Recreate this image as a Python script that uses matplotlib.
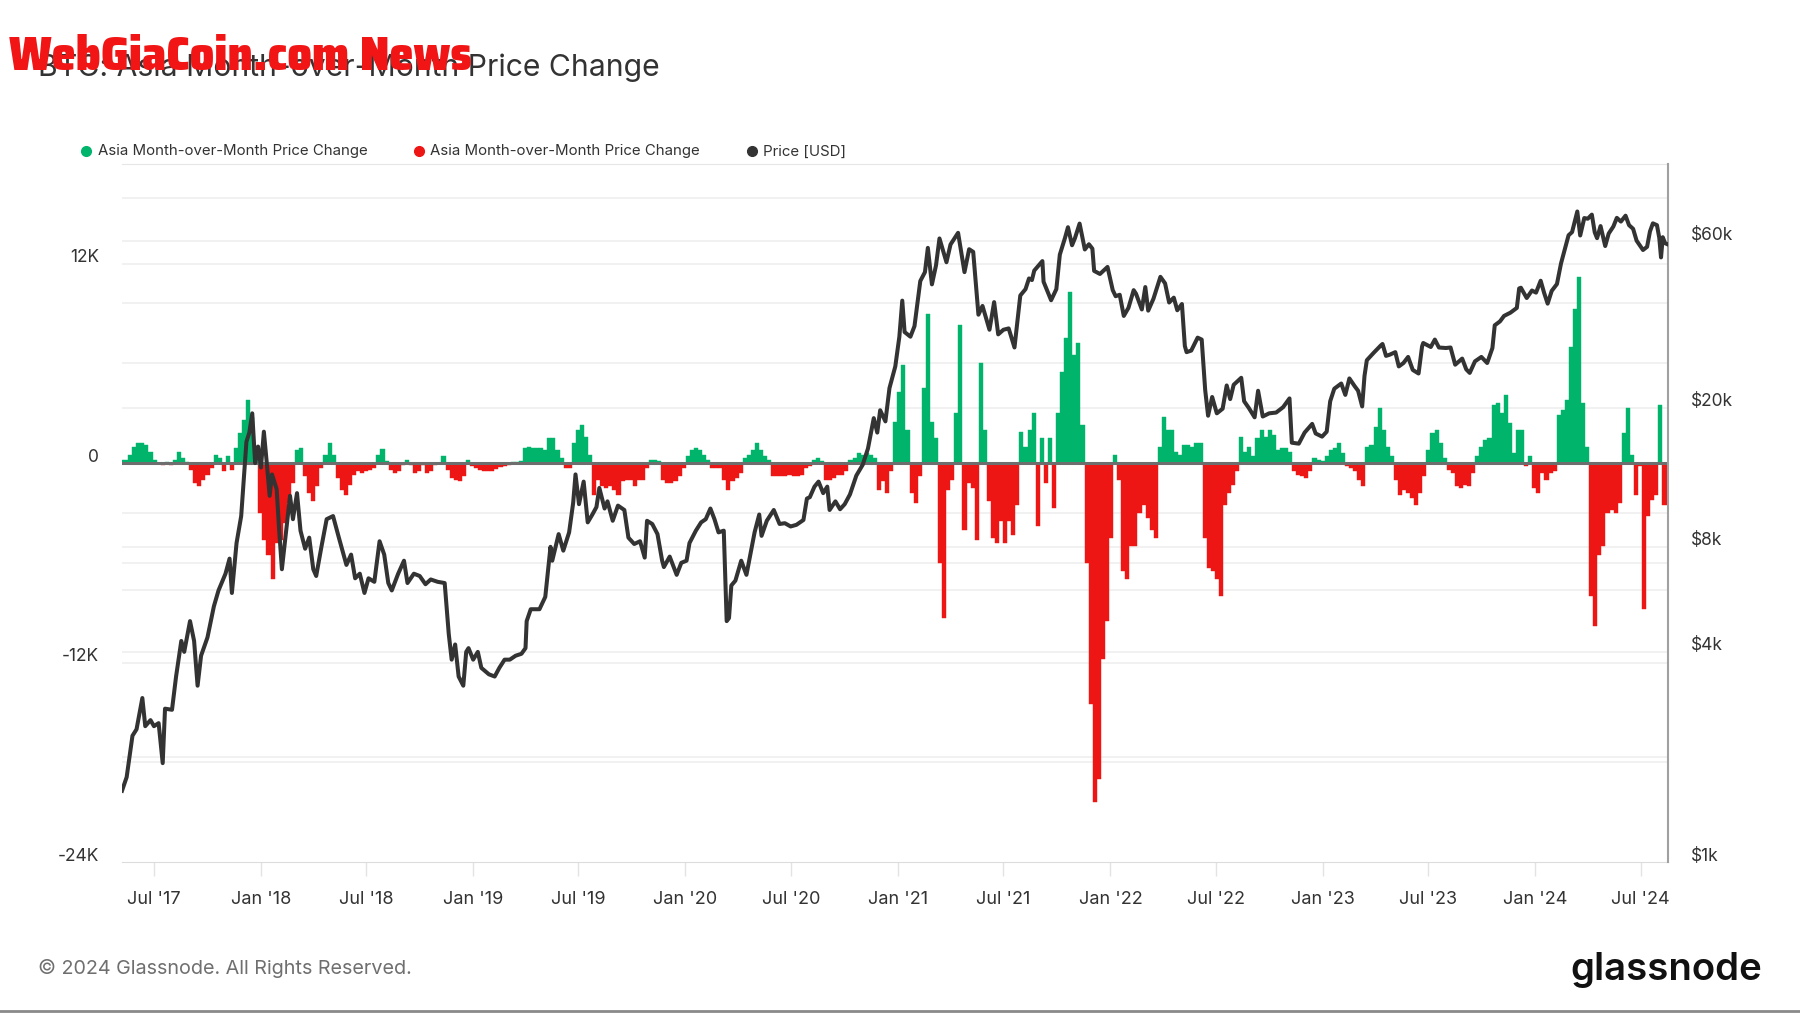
import matplotlib
matplotlib.use("Agg")
import matplotlib.pyplot as plt
import numpy as np
import pandas as pd
from matplotlib.lines import Line2D
from matplotlib.ticker import NullLocator
from matplotlib import font_manager
from matplotlib.font_manager import FontProperties

# ---------------- data ----------------
# Asia month-over-month price change (USD thousands), one value per week starting 2017-05-07
mom_start = "2017-05-07"
mom_2017 = [0.2, 0.2, 0.5, 1.0, 1.2, 1.2, 1.1, 0.7, 0.2, -0.05, -0.1, 0.05, -0.1, 0.2, 0.65, 0.3, 0.05,
            -0.4, -1.2, -1.4, -1.0, -0.7, -0.3, 0.5, 0.3, -0.5, 0.4, -0.4, 0.9, 1.8, 2.6, 3.8, 2.8, 0.8, -3.0]
mom_2018 = [-4.6, -5.5, -7.0, -4.8, -4.6, -3.6, -2.4, -1.2, 0.8, 0.9, -0.8, -1.8, -2.3, -1.4, -0.3, 0.5,
            1.2, 0.5, -0.9, -1.6, -1.9, -1.3, -0.7, -0.5, -0.6, -0.5, -0.4, -0.3, 0.5, 0.85, 0.1, -0.4,
            -0.6, -0.5, -0.1, 0.2, -0.1, -0.6, -0.5, -0.1, -0.6, -0.5, -0.1, -0.05, 0.4, -0.4, -0.9, -1.0,
            -1.05, -0.8, 0.2, -0.2]
mom_2019 = [-0.3, -0.4, -0.5, -0.5, -0.45, -0.35, -0.25, -0.2, -0.1, 0.05, 0.05, 0.1, 0.9, 1.0, 0.9, 0.9,
            0.9, 0.8, 1.5, 1.5, 0.8, 0.3, -0.3, -0.3, 1.2, 2.0, 2.3, 1.6, 0.5, -1.9, -1.0, -1.4, -1.5, -1.4,
            -1.6, -1.9, -1.1, -1.0, -1.0, -1.4, -1.0, -1.0, -0.3, 0.2, 0.2, 0.1, -1.0, -1.2, -1.2, -1.1,
            -0.8, -0.3]
mom_2020 = [0.4, 0.8, 0.9, 0.8, 0.5, 0.2, -0.3, -0.3, -0.3, -1.0, -1.6, -1.1, -0.9, -0.6, 0.3, 0.5, 0.8,
            1.2, 0.8, 0.4, 0.2, -0.8, -0.8, -0.75, -0.8, -0.7, -0.75, -0.8, -0.7, -0.3, -0.2, 0.2, 0.3,
            0.1, -1.0, -1.0, -0.9, -0.7, -0.7, -0.5, 0.2, 0.3, 0.6, 0.5, 0.6, 0.5, 0.3, -1.6, -1.1, -1.8,
            -0.5, 2.5]
mom_2021 = [4.3, 5.9, 2.0, -1.8, -2.4, -0.8, 4.5, 9.0, 2.5, 1.5, -6.0, -9.3, -1.6, -1.0, 3.0, 8.3, -4.0,
            -1.2, -1.5, -4.6, 6.0, 2.0, -2.3, -4.5, -4.8, -3.5, -4.8, -3.5, -4.3, -2.5, 1.9, 1.0, 2.0, 3.0,
            -3.8, 1.5, -1.2, 1.5, -2.7, 3.0, 5.5, 7.5, 10.3, 6.5, 7.2, 2.3, -6.0, -14.5, -20.4, -19.0,
            -11.8, -9.5]
mom_2022 = [-4.5, 0.5, -1.0, -6.5, -7.0, -5.0, -5.0, -3.0, -2.5, -3.3, -4.0, -4.5, 1.0, 2.8, 2.0, 2.0, 0.7,
            0.5, 1.1, 1.1, 1.0, 1.2, 1.2, -4.5, -6.3, -6.5, -7.0, -8.0, -2.5, -1.8, -1.3, -0.5, 1.6, 0.7,
            1.0, 0.4, 1.5, 2.0, 1.6, 2.0, 1.7, 0.8, 0.9, 0.9, 0.7, -0.5, -0.7, -0.8, -0.9, -0.5, 0.3, 0.2]
mom_2023 = [0.1, 0.4, 0.8, 0.9, 1.2, 0.6, -0.2, -0.3, -0.5, -1.0, -1.4, 1.0, 1.1, 2.2, 3.3, 2.0, 1.0, 0.4,
            -1.0, -1.9, -1.6, -1.8, -2.1, -2.5, -1.8, -0.8, 0.8, 1.8, 2.0, 1.2, 0.3, -0.4, -0.6, -1.4, -1.5,
            -1.3, -1.4, -0.6, 0.4, 1.0, 1.4, 1.5, 3.5, 3.6, 3.0, 4.1, 2.4, 0.6, 2.0, 2.0, -0.2, 0.4]
mom_2024 = [-1.5, -1.8, -0.6, -1.0, -0.6, -0.5, 2.9, 3.2, 3.8, 7.0, 9.3, 11.2, 3.6, 1.0, -8.0, -9.8, -5.5,
            -5.0, -3.0, -2.8, -3.0, -2.4, 1.8, 3.3, 0.5, -1.9, -0.2, -8.8, -3.2, -2.2, -1.9, 3.5, -2.5]
mom_k = mom_2017 + mom_2018 + mom_2019 + mom_2020 + mom_2021 + mom_2022 + mom_2023 + mom_2024

# BTC price (USD)
price_dates = [
    "2017-05-07", "2017-05-15", "2017-05-25", "2017-06-01", "2017-06-11", "2017-06-16", "2017-06-25",
    "2017-07-01", "2017-07-09", "2017-07-16", "2017-07-20", "2017-08-01", "2017-08-08", "2017-08-17",
    "2017-08-22", "2017-09-01", "2017-09-08", "2017-09-14", "2017-09-20", "2017-10-01", "2017-10-12",
    "2017-10-20", "2017-11-01", "2017-11-08", "2017-11-12", "2017-11-20", "2017-11-28", "2017-12-07",
    "2017-12-12", "2017-12-17", "2017-12-22", "2017-12-27",
    "2018-01-01", "2018-01-06", "2018-01-10", "2018-01-16", "2018-01-20", "2018-01-28", "2018-02-01",
    "2018-02-06", "2018-02-12", "2018-02-20", "2018-02-25", "2018-03-04", "2018-03-10", "2018-03-18",
    "2018-03-25", "2018-04-01", "2018-04-06", "2018-04-15", "2018-04-24", "2018-05-05", "2018-05-15",
    "2018-05-28", "2018-06-05", "2018-06-12", "2018-06-20", "2018-06-28", "2018-07-05", "2018-07-15",
    "2018-07-24", "2018-08-01", "2018-08-08", "2018-08-14", "2018-08-25", "2018-09-04", "2018-09-10",
    "2018-09-21", "2018-10-01", "2018-10-11", "2018-10-20", "2018-11-01", "2018-11-13", "2018-11-20",
    "2018-11-25", "2018-12-01", "2018-12-07", "2018-12-15", "2018-12-20", "2018-12-24",
    "2019-01-01", "2019-01-09", "2019-01-15", "2019-01-28", "2019-02-07", "2019-02-15", "2019-02-24",
    "2019-03-05", "2019-03-15", "2019-03-25", "2019-04-01", "2019-04-03", "2019-04-10", "2019-04-25",
    "2019-05-05", "2019-05-11", "2019-05-14", "2019-05-17", "2019-05-28", "2019-06-05", "2019-06-15",
    "2019-06-22", "2019-06-26", "2019-07-02", "2019-07-10", "2019-07-17", "2019-07-25", "2019-08-01",
    "2019-08-06", "2019-08-15", "2019-08-20", "2019-08-29", "2019-09-07", "2019-09-18", "2019-09-25",
    "2019-10-05", "2019-10-15", "2019-10-23", "2019-10-27", "2019-11-05", "2019-11-14", "2019-11-22",
    "2019-11-25", "2019-12-05", "2019-12-17", "2019-12-25",
    "2020-01-03", "2020-01-08", "2020-01-19", "2020-01-28", "2020-02-05", "2020-02-13", "2020-02-20",
    "2020-02-27", "2020-03-07", "2020-03-12", "2020-03-16", "2020-03-20", "2020-03-27", "2020-04-06",
    "2020-04-15", "2020-04-29", "2020-05-07", "2020-05-11", "2020-05-20", "2020-06-01", "2020-06-11",
    "2020-06-20", "2020-06-30", "2020-07-10", "2020-07-22", "2020-07-28", "2020-08-02", "2020-08-10",
    "2020-08-17", "2020-08-25", "2020-09-01", "2020-09-05", "2020-09-15", "2020-09-23", "2020-10-01",
    "2020-10-10", "2020-10-21", "2020-11-01", "2020-11-10", "2020-11-20", "2020-11-26", "2020-12-01",
    "2020-12-10", "2020-12-17", "2020-12-27",
    "2021-01-03", "2021-01-08", "2021-01-12", "2021-01-22", "2021-01-29", "2021-02-08", "2021-02-16",
    "2021-02-21", "2021-02-28", "2021-03-07", "2021-03-13", "2021-03-25", "2021-04-01", "2021-04-14",
    "2021-04-25", "2021-05-03", "2021-05-10", "2021-05-19", "2021-05-26", "2021-06-07", "2021-06-15",
    "2021-06-22", "2021-07-01", "2021-07-10", "2021-07-20", "2021-07-30", "2021-08-08", "2021-08-14",
    "2021-08-19", "2021-08-23", "2021-09-06", "2021-09-08", "2021-09-21", "2021-09-30", "2021-10-06",
    "2021-10-15", "2021-10-20", "2021-10-27", "2021-11-01", "2021-11-09", "2021-11-18", "2021-11-25",
    "2021-12-01", "2021-12-04", "2021-12-14", "2021-12-27",
    "2022-01-05", "2022-01-10", "2022-01-17", "2022-01-24", "2022-02-01", "2022-02-10", "2022-02-14",
    "2022-02-24", "2022-03-02", "2022-03-07", "2022-03-16", "2022-03-28", "2022-04-05", "2022-04-12",
    "2022-04-20", "2022-04-26", "2022-05-04", "2022-05-09", "2022-05-12", "2022-05-20", "2022-05-31",
    "2022-06-07", "2022-06-13", "2022-06-18", "2022-06-25", "2022-07-03", "2022-07-13", "2022-07-20",
    "2022-07-26", "2022-08-01", "2022-08-14", "2022-08-19", "2022-08-27", "2022-09-06", "2022-09-12",
    "2022-09-20", "2022-10-01", "2022-10-13", "2022-10-25", "2022-11-05", "2022-11-09", "2022-11-21",
    "2022-12-01", "2022-12-14", "2022-12-20", "2022-12-31",
    "2023-01-08", "2023-01-14", "2023-01-21", "2023-02-02", "2023-02-09", "2023-02-16", "2023-02-25",
    "2023-03-03", "2023-03-10", "2023-03-14", "2023-03-18", "2023-03-30", "2023-04-11", "2023-04-14",
    "2023-04-20", "2023-04-26", "2023-05-06", "2023-05-12", "2023-05-20", "2023-05-28", "2023-06-05",
    "2023-06-15", "2023-06-21", "2023-06-23", "2023-07-06", "2023-07-13", "2023-07-20", "2023-08-01",
    "2023-08-09", "2023-08-17", "2023-08-29", "2023-09-05", "2023-09-11", "2023-09-20", "2023-10-01",
    "2023-10-11", "2023-10-20", "2023-10-24", "2023-11-02", "2023-11-09", "2023-11-20", "2023-12-01",
    "2023-12-05", "2023-12-08", "2023-12-18", "2023-12-27",
    "2024-01-03", "2024-01-11", "2024-01-17", "2024-01-23", "2024-01-30", "2024-02-08", "2024-02-15",
    "2024-02-28", "2024-03-05", "2024-03-14", "2024-03-19", "2024-03-26", "2024-04-01", "2024-04-08",
    "2024-04-13", "2024-04-17", "2024-04-23", "2024-05-01", "2024-05-07", "2024-05-15", "2024-05-21",
    "2024-05-28", "2024-06-05", "2024-06-11", "2024-06-18", "2024-06-24", "2024-07-05", "2024-07-12",
    "2024-07-17", "2024-07-22", "2024-07-29", "2024-08-02", "2024-08-05", "2024-08-08", "2024-08-12",
    "2024-08-16"]
price_usd = [
    1600, 1750, 2300, 2400, 2950, 2450, 2550,
    2450, 2500, 1920, 2750, 2730, 3400, 4300,
    4000, 4900, 4300, 3200, 3900, 4400, 5400,
    6000, 6700, 7400, 5900, 8200, 9800, 16000,
    17000, 19300, 13900, 15500,
    13500, 17100, 14500, 11200, 12900, 11700, 9100,
    6900, 8500, 11200, 9600, 11400, 8900, 7900,
    8500, 6900, 6600, 8000, 9600, 9800, 8500,
    7100, 7600, 6500, 6700, 5900, 6500, 6350,
    8300, 7600, 6300, 6000, 6700, 7300, 6300,
    6700, 6600, 6250, 6450, 6350, 6300, 4500,
    3800, 4200, 3400, 3200, 4000, 4100,
    3800, 4000, 3600, 3450, 3400, 3600, 3800,
    3800, 3900, 3950, 4100, 4900, 5300, 5300,
    5750, 7200, 8000, 7300, 8700, 7800, 8800,
    10700, 12900, 10600, 12300, 9400, 9900, 10400,
    11800, 10300, 10800, 9500, 10500, 10200, 8500,
    8150, 8300, 7450, 9500, 9300, 8700, 7300,
    7000, 7500, 6650, 7200,
    7300, 8200, 8900, 9400, 9600, 10300, 9600,
    8800, 8900, 4900, 5000, 6200, 6400, 7300,
    6650, 8800, 9900, 8600, 9500, 10200, 9300,
    9350, 9150, 9250, 9550, 11000, 11100, 11900,
    12300, 11400, 11900, 10200, 10800, 10250, 10600,
    11300, 12800, 13750, 15300, 18700, 17000, 19700,
    18300, 22800, 26300,
    32000, 40600, 33000, 32000, 34300, 46200, 49000,
    57500, 45200, 51200, 61200, 52300, 58800, 63500,
    49000, 57000, 56000, 37000, 39200, 33500, 40200,
    32500, 33500, 33800, 29800, 42000, 43800, 47000,
    46500, 49500, 52700, 46000, 40700, 43800, 55000,
    61500, 65900, 58500, 61300, 67500, 56900, 58900,
    57200, 49400, 48400, 50700,
    43500, 41800, 42200, 36700, 38700, 43500, 42500,
    38300, 44400, 38000, 41100, 47500, 45500, 40100,
    41400, 38100, 39700, 30100, 28900, 29200, 31800,
    31400, 22500, 19000, 21500, 19300, 19900, 23200,
    21200, 23300, 24400, 20900, 20000, 18800, 22400,
    18900, 19300, 19400, 20100, 21300, 15900, 15800,
    17000, 18000, 16900, 16550,
    17100, 20900, 22700, 23500, 21800, 24300, 23100,
    22400, 20200, 24700, 27400, 28800, 30200, 30500,
    28200, 28400, 28900, 26300, 26900, 28000, 25700,
    25100, 30000, 30700, 29900, 31400, 29800, 29700,
    29800, 26600, 27700, 25800, 25200, 27200, 28000,
    26900, 29700, 34500, 35400, 36700, 37500, 38700,
    44000, 44200, 41300, 43400,
    42800, 46300, 42700, 39800, 43300, 45300, 51900,
    62500, 63800, 73100, 62400, 70000, 69700, 71600,
    63700, 61300, 66400, 58200, 63200, 66200, 70100,
    68400, 71100, 66800, 65200, 60300, 56700, 57900,
    64100, 67600, 66800, 61400, 54000, 61700, 59300,
    58900]

x_tick_dates = pd.date_range("2017-07-01", "2024-07-01", freq="6MS")
left_ticks = [-24000, -12000, 0, 12000]
left_labels = ["-24K", "-12K", "0", "12K"]
right_ticks = [1000, 4000, 8000, 20000, 60000]
right_labels = ["$1k", "$4k", "$8k", "$20k", "$60k"]
legend_labels = ["Asia Month-over-Month Price Change", "Asia Month-over-Month Price Change", "Price [USD]"]

# ---------------- style ----------------
GREEN = "#00b46b"
RED = "#ee1515"
DARK = "#333333"
GRID = "#ededed"

plt.rcParams['font.family'] = ['Inter', 'DejaVu Sans']

W, H = 1800, 1013
fig = plt.figure(figsize=(W / 100, H / 100), dpi=100)
L, R, T, B = 122, 1668, 164, 862
ax = fig.add_axes([L / W, 1 - B / H, (R - L) / W, (B - T) / H])
ax2 = ax.twinx()

# bars
week_dates = pd.date_range(mom_start, periods=len(mom_k), freq="7D")
vals = np.array(mom_k) * 1000.0
pos = vals >= 0
ax.bar(week_dates[pos], vals[pos], width=7, color=GREEN, edgecolor=GREEN, linewidth=0.3, zorder=2)
ax.bar(week_dates[~pos], vals[~pos], width=7, color=RED, edgecolor=RED, linewidth=0.3, zorder=2)
ax.axhline(0, color="#6e6e6e", lw=2.2, zorder=3)

ax.set_xlim(pd.Timestamp("2017-05-07"), pd.Timestamp("2024-08-17"))
ax.set_ylim(-24000, 18000)

# left grid lines
for v in [-18000, -12000, -6000, 6000, 12000]:
    ax.axhline(v, color=GRID, lw=1.1, zorder=0)
# right (log) grid lines, drawn in axes fraction of the log axis range 1k..100k
for v in [2000, 4000, 6000, 8000, 10000, 20000, 40000, 60000, 80000]:
    f = (np.log10(v) - 3.0) / 2.0
    ax.plot([0, 1], [f, f], transform=ax.transAxes, color=GRID, lw=1.1, zorder=0)

# price
ax2.plot(pd.to_datetime(price_dates), price_usd, color=DARK, lw=2.9, zorder=5,
         solid_joinstyle="round")
ax2.set_yscale("log")
ax2.set_ylim(1000, 100000)
ax2.yaxis.set_minor_locator(NullLocator())
ax2.set_yticks([])

# x ticks
ax.set_xticks(x_tick_dates)
ax.set_xticklabels([d.strftime("%b '%y") for d in x_tick_dates])
ax.tick_params(axis="x", length=10, width=1, color="#e3e3e3", pad=11, labelsize=13, labelcolor=DARK)
ax.tick_params(axis="y", left=False, labelleft=False)
ax.set_yticks([])
ax2.tick_params(axis="y", right=False, labelright=False, which="both")

# y labels
for v, s in zip(left_ticks, left_labels):
    ax.annotate(s, xy=(0, v), xycoords=("axes fraction", "data"), xytext=(-23, 6),
                textcoords="offset pixels", ha="right", va="center", fontsize=12.5, color=DARK)
for v, s in zip(right_ticks, right_labels):
    ax2.annotate(s, xy=(1, v), xycoords=("axes fraction", "data"), xytext=(23, 6),
                 textcoords="offset pixels", ha="left", va="center", fontsize=12.5, color=DARK)

# spines
ax.spines["left"].set_visible(False)
ax.spines["right"].set_visible(False)
ax.spines["top"].set_color("#e6e6e6")
ax.spines["bottom"].set_color("#dcdcdc")
for s in ["left", "top", "bottom"]:
    ax2.spines[s].set_visible(False)
ax2.spines["right"].set_color("#a0a0a0")
ax2.spines["right"].set_linewidth(1.5)

renderer = fig.canvas.get_renderer()


def fit_width(t, target):
    w = t.get_window_extent(renderer=renderer).width
    t.set_fontsize(t.get_fontsize() * target / w)


# title
title = fig.text(38 / W, 1 - 67.5 / H, "BTC: Asia Month-over-Month Price Change", fontsize=20,
                 color=DARK, ha="left", va="center")
fit_width(title, 622)

# legend
ly = 1 - 151.5 / H
leg_items = [(86, 98, GREEN), (419, 430, RED), (752, 763, DARK)]
leg_texts = []
for (mx, tx, c), lab in zip(leg_items, legend_labels):
    fig.lines.append(Line2D([mx / W], [ly], marker="o", markersize=7, color=c, linestyle="none",
                            transform=fig.transFigure))
    leg_texts.append(fig.text(tx / W, ly, lab, fontsize=11, color=DARK, ha="left", va="center"))
w0 = leg_texts[0].get_window_extent(renderer=renderer).width
fs = 11 * 269 / w0
for t in leg_texts:
    t.set_fontsize(fs)

# footer
foot = fig.text(38 / W, 1 - 968 / H, "\u00a9 2024 Glassnode. All Rights Reserved.", fontsize=14,
                color="#6f6f6f", ha="left", va="center")
fit_width(foot, 376)
logo = fig.text(1570 / W, 1 - 970 / H, "glassnode", fontsize=28, color="#111111", ha="left",
                va="center", fontweight="semibold")
fit_width(logo, 192)
fig.lines.append(Line2D([0, 1], [1 - 1011 / H, 1 - 1011 / H], color="#8a8a8a", lw=2,
                        transform=fig.transFigure))

# watermark: pick a heavy condensed face if one is installed
cands = []
for f in font_manager.fontManager.ttflist:
    nm = f.name
    st = str(f.stretch)
    narrow = ("Condensed" in nm or "Narrow" in nm or
              st in ("condensed", "semi-condensed", "extra-condensed", "ultra-condensed"))
    try:
        wt = int(f.weight)
    except Exception:
        wt = {"bold": 700, "heavy": 900, "black": 900, "extra bold": 800}.get(str(f.weight), 400)
    if narrow and wt >= 700 and "Mono" not in nm and "CJK" not in nm:
        score = wt + (100 if "extra" in st or "ultra" in st else 0)
        cands.append((score, f.fname))
wm_text = "WebGiaCoin.com News"
if cands:
    cands.sort(reverse=True)
    wm = fig.text(9 / W, 1 - 56.5 / H, wm_text, color="#f21515", ha="left", va="center",
                  fontproperties=FontProperties(fname=cands[0][1], size=30))
else:
    wm = fig.text(9 / W, 1 - 56.5 / H, wm_text, fontsize=30, color="#f21515", ha="left",
                  va="center", fontweight="bold", family=["DejaVu Sans"])
fit_width(wm, 463)

fig.savefig("out.png", dpi=100, facecolor="white")
